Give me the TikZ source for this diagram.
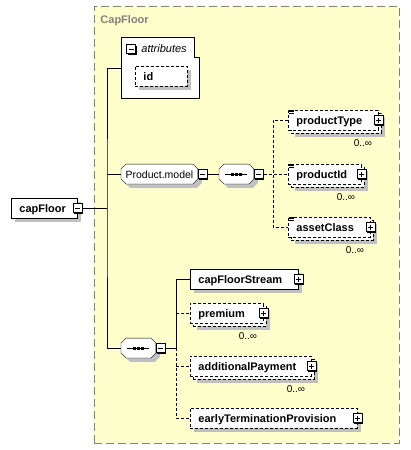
\documentclass[tikz,border=0pt]{standalone}
\usepackage{fontspec}
\setmainfont{Liberation Sans}
\usetikzlibrary{shadows,backgrounds}
\newcommand{\elfont}{\fontsize{11}{13}\selectfont}
\definecolor{grpfill}{RGB}{255,255,204}
\definecolor{grpline}{RGB}{128,128,128}
\definecolor{shadowgray}{RGB}{192,192,192}
\tikzset{
  optline/.style={dash pattern=on 3pt off 2pt},
  shade4/.style={drop shadow={shadow xshift=4pt, shadow yshift=-4pt, fill=shadowgray, opacity=1}},
  elembase/.style={draw, fill=white, anchor=west, minimum height=20pt, inner xsep=8pt, inner ysep=0pt,
    text width=#1, align=left, text height=8pt, text depth=0pt, font=\elfont\bfseries},
  elem/.style={elembase=#1, shade4},
  optelem/.style={elem=#1, optline},
  multelem/.style={elembase=#1, optline,
    drop shadow={shadow xshift=7pt, shadow yshift=-7pt, fill=shadowgray, opacity=1},
    copy shadow={shadow xshift=3pt, shadow yshift=-3pt, draw=black, fill=white, optline}},
  comp/.style={anchor=west, minimum height=19pt, inner sep=0pt, text height=8pt, text depth=0pt,
    font=\fontsize{10.5}{12}\selectfont},
  toggle/.style={draw, fill=white, solid, minimum size=9pt, inner sep=0pt,
    drop shadow={shadow xshift=1pt, shadow yshift=-1pt, fill=black, opacity=1}},
  tminus/.style={toggle, path picture={\draw ([xshift=2pt]path picture bounding box.west) -- ([xshift=-2pt]path picture bounding box.east);}},
  tplus/.style={toggle, path picture={\draw ([xshift=2pt]path picture bounding box.west) -- ([xshift=-2pt]path picture bounding box.east)
    ([yshift=-2pt]path picture bounding box.north) -- ([yshift=2pt]path picture bounding box.south);}},
  mult/.style={inner sep=0pt, font=\fontsize{10}{12}\selectfont},
  grp/.style={draw=grpline, fill=grpfill, dash pattern=on 8pt off 4pt, anchor=north west,
    minimum width=305pt, minimum height=437pt, inner sep=0pt}
}
% chamfered outline of a compositor, behind its node
\newcommand{\compshape}[1]{%
  \begin{scope}[on background layer]
    \draw[fill=white, shade4] ([xshift=5pt]#1.north west) -- ([xshift=-5pt]#1.north east)
      -- ([yshift=-5pt]#1.north east) -- ([yshift=5pt]#1.south east)
      -- ([xshift=-5pt]#1.south east) -- ([xshift=5pt]#1.south west)
      -- ([yshift=5pt]#1.south west) -- ([yshift=-5pt]#1.north west) -- cycle;
  \end{scope}}
\begin{document}
\begin{tikzpicture}[x=1pt, y=-1pt, line width=0.9pt, font=\elfont]
\useasboundingbox (0,0) rectangle (410,450);
\begin{scope}[on background layer]
\node[grp] (capFloorBox) at (94,6) {};
\end{scope}
\node[font=\elfont\bfseries, text=grpline, anchor=base west, inner sep=0pt] (capFloorLbl) at (100,23) {CapFloor};
% root
\node[elem=50pt] (capFloor) at (11,208) {capFloor};
\node[tminus] (capFloorTg) at (capFloor.east) {};
\coordinate (fork) at (107,208);
% attributes
\node[anchor=west, minimum width=78pt, minimum height=60pt, inner sep=0pt] (attr) at (121,68) {};
\draw[fill=white] (attr.south west) |- ([xshift=-5pt]attr.north east) |- ([yshift=-20pt]attr.north east) |- (attr.south west) -- cycle;
\node[tminus] (attrTg) at (131,49) {};
\node[font=\elfont\itshape, anchor=west, inner sep=0pt, text height=8pt, text depth=0pt] (attrLbl) at (141,48) {attributes};
\node[optelem=36pt] (id) at (135,76) {id};
% Product.model group
\node[comp, minimum width=76pt] (pmod) at (121,174) {Product.model};
\compshape{pmod}
\node[tminus, anchor=west] (pmodTg) at (pmod.east) {};
\node[comp, minimum width=34pt] (seqA) at (219,174) {};
\compshape{seqA}
\node[tminus, anchor=west] (seqATg) at (seqA.east) {};
\coordinate (chA) at (273,174);
\node[multelem=74pt] (productType) at (288,120) {productType};
\node[multelem=57pt] (productId) at (288,174) {productId};
\node[multelem=66pt] (assetClass) at (288,227) {assetClass};
% main sequence
\node[comp, minimum width=34pt] (seqB) at (121,348) {};
\compshape{seqB}
\node[tminus, anchor=west] (seqBTg) at (seqB.east) {};
\coordinate (chB) at (176,348);
\node[elem=92pt] (capFloorStream) at (190,279) {capFloorStream};
\node[multelem=57pt] (premium) at (190,313) {premium};
\node[multelem=105pt] (additionalPayment) at (190,366) {additionalPayment};
\node[optelem=151pt] (earlyTerminationProvision) at (190,418) {earlyTerminationProvision};
% expand boxes and occurrences
\foreach \e in {productType,productId,assetClass,capFloorStream,premium,additionalPayment,earlyTerminationProvision}
  \node[tplus] (\e Tg) at (\e.east) {};
\foreach \e in {productType,productId,assetClass,premium,additionalPayment}
  \node[mult] (\e Mul) at ([xshift=-16pt,yshift=-13pt]\e.south east) {0..∞};
\foreach \e in {productType,productId,assetClass}
  \foreach \k in {-0.5pt,-2pt,-3.5pt}
    \draw[line width=0.6pt] ([xshift=1pt,yshift=\k]\e.north west) -- ++(5pt,0);
% sequence symbols
\foreach \s in {seqA,seqB} {
  \draw (\s.center) ++(-11pt,0) -- ++(22pt,0);
  \foreach \d in {-4pt,0pt,4pt}
    \fill ([xshift=\d]\s.center) ++(-1.3pt,-1.5pt) rectangle ++(2.6pt,3pt);
}
% connectors
\draw (capFloorTg.east) -- (fork);
\draw (attr.west) -| (fork) |- (seqB.west);
\draw (fork |- pmod.west) -- (pmod.west);
\draw (pmodTg.east) -- (seqA.west);
\draw[optline] (seqATg.east) -- (chA) -- (productId.west);
\draw[optline] (productType.west) -| (chA) |- (assetClass.west);
\draw (seqBTg.east) -- (chB) |- (capFloorStream.west);
\draw[optline] (chB |- premium.west) -- (premium.west);
\draw[optline] (chB) |- (earlyTerminationProvision.west);
\draw[optline] (chB |- additionalPayment.west) -- (additionalPayment.west);
\end{tikzpicture}
\end{document}
